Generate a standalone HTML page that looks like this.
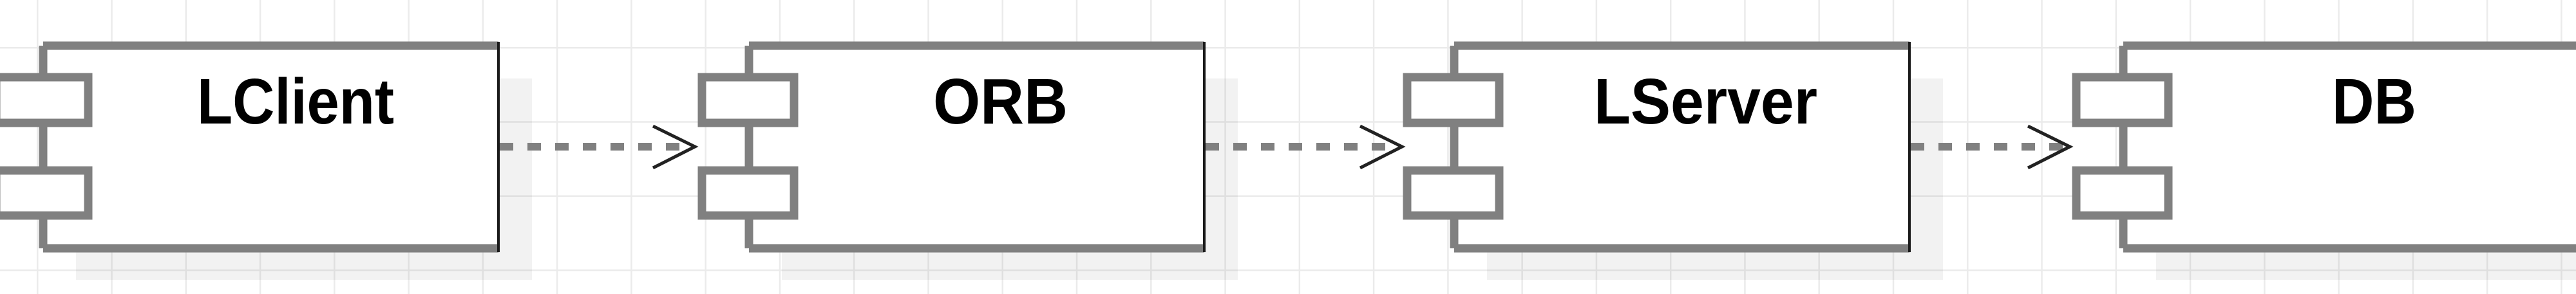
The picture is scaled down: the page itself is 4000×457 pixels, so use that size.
<!DOCTYPE html>
<html><head><meta charset="utf-8"><style>
html,body{margin:0;padding:0;background:#fff;}
svg{display:block;}
text{font-family:"Liberation Sans",Arial,sans-serif;font-size:100px;font-weight:bold;fill:#000;}
</style></head><body>
<svg width="4000" height="457" viewBox="0 0 4000 457" xmlns="http://www.w3.org/2000/svg">
<defs>
<pattern id="g" x="57" y="73" width="115.27" height="115.27" patternUnits="userSpaceOnUse">
<path d="M0 0V115.27M0 0H115.27" stroke="#ebebeb" stroke-width="5" fill="none"/>
</pattern>
<g id="comp">
<rect x="51" y="122" width="708" height="313" fill="#000" opacity="0.05"/>
<rect x="0" y="71" width="707" height="315" fill="#fff"/>
<path d="M0 71H707M0 386H707M0 71V386" stroke="#808080" stroke-width="13" fill="none"/>
<path d="M707 65V392" stroke="#1a1a1a" stroke-width="4"/>
<rect x="-73" y="120" width="143" height="71" fill="#fff" stroke="#808080" stroke-width="13"/>
<rect x="-73" y="265" width="143" height="70" fill="#fff" stroke="#808080" stroke-width="13"/>
</g>
<path id="head" d="M-65 196L0 228L-65 261" stroke="#222" stroke-width="5" fill="none"/>
</defs>
<rect width="4000" height="457" fill="url(#g)"/>
<use href="#comp" x="67"/>
<use href="#comp" x="1163"/>
<use href="#comp" x="2258"/>
<use href="#comp" x="3297"/>
<g stroke="#808080" stroke-width="12" stroke-dasharray="21 22" fill="none">
<path d="M776 228H1072"/>
<path d="M1872 228H2170"/>
<path d="M2967 228H3207"/>
</g>
<use href="#head" x="1079"/>
<use href="#head" x="2177"/>
<use href="#head" x="3214"/>
<text x="306" y="192" textLength="306" lengthAdjust="spacingAndGlyphs">LClient</text>
<text x="1449" y="192" textLength="209" lengthAdjust="spacingAndGlyphs">ORB</text>
<text x="2475" y="192" textLength="347" lengthAdjust="spacingAndGlyphs">LServer</text>
<text x="3621" y="192" textLength="131" lengthAdjust="spacingAndGlyphs">DB</text>
</svg>
</body></html>
